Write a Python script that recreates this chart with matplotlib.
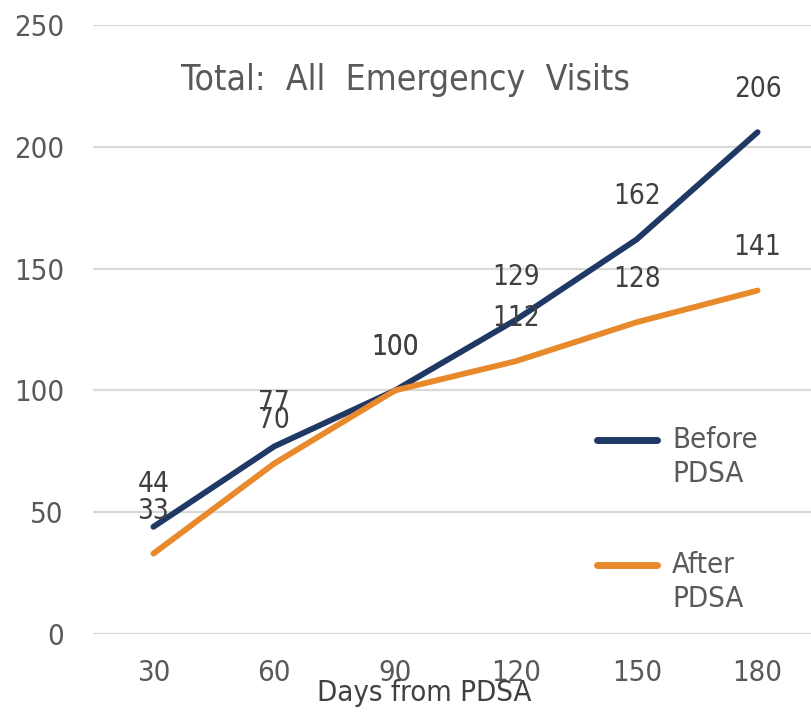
import matplotlib.pyplot as plt
from matplotlib.lines import Line2D

days = ['30', '60', '90', '120', '150', '180']
before = [44, 77, 100, 129, 162, 206]
after = [33, 70, 100, 112, 128, 141]
yticks = [0, 50, 100, 150, 200, 250]

navy = '#1F3864'
orange = '#E8892C'
gray = '#595959'
dark = '#404040'
fam = ['DejaVu Sans']
st = 'condensed'

W, H = 811, 712
fig = plt.figure(figsize=(W / 100, H / 100), dpi=100)
ax = fig.add_axes([93 / W, (H - 634) / H, 725 / W, (634 - 25) / H])

x = range(len(days))
ax.plot(x, before, color=navy, lw=4.2, solid_capstyle='round', zorder=3)
ax.plot(x, after, color=orange, lw=4.2, solid_capstyle='round', zorder=3)

for i, v in enumerate(before):
    ax.annotate(str(v), (i, v), xytext=(0, 31), textcoords='offset points',
                ha='center', va='center', fontsize=20, color=dark, family=fam, stretch=st)
for i, v in enumerate(after):
    ax.annotate(str(v), (i, v), xytext=(0, 31), textcoords='offset points',
                ha='center', va='center', fontsize=20, color=dark, family=fam, stretch=st)

ax.set_xlim(-0.5, 5.5)
ax.set_ylim(0, 250)
ax.set_yticks(yticks)
ax.set_xticks(list(x))
ax.set_xticklabels(days)
ax.grid(axis='y', color='#D9D9D9', lw=1.6)
ax.set_axisbelow(True)
for s in ax.spines.values():
    s.set_visible(False)
ax.tick_params(length=0, labelsize=21, labelcolor=gray)
ax.tick_params(axis='y', pad=21)
ax.tick_params(axis='x', pad=18)
for lab in ax.get_xticklabels() + ax.get_yticklabels():
    lab.set_family(fam)
    lab.set_stretch(st)

ax.set_xlabel('Days from PDSA', fontsize=21, color=dark, family=fam, stretch=st)
ax.xaxis.set_label_coords((424 - 93) / 725, -(693 - 634) / (634 - 25))
ax.xaxis.label.set_va('center')

fig.text(405 / W, 1 - 80 / H, 'Total:  All  Emergency  Visits', ha='center', va='center',
         fontsize=25.5, color=gray, family=fam, stretch=st)

# legend
for yy, col, lab in [(440, navy, 'Before'), (565, orange, 'After')]:
    fig.add_artist(Line2D([597 / W, 657 / W], [1 - yy / H, 1 - yy / H], color=col, lw=5,
                          solid_capstyle='round'))
    fig.text(672 / W, 1 - yy / H, lab, ha='left', va='center', fontsize=21,
             color=gray, family=fam, stretch=st)
    fig.text(672 / W, 1 - (yy + 34) / H, 'PDSA', ha='left', va='center', fontsize=21,
             color=gray, family=fam, stretch=st)

fig.savefig('out.png', dpi=100)
